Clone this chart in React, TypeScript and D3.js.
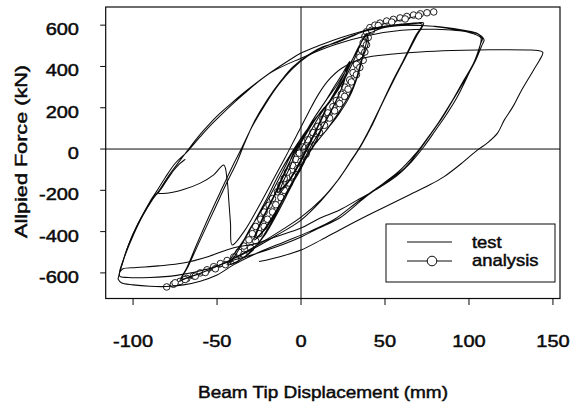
import React from 'react';
import * as d3 from 'd3';

type P = [number, number];

const xTicks = [-100, -50, 0, 50, 100, 150];
const yTicks = [-600, -400, -200, 0, 200, 400, 600];

const xTitle = 'Beam Tip Displacement (mm)';
const yTitle = 'Allpied Force (kN)';
const legendLabels = ['test', 'analysis'];

// test record: small elastic cycles
const testElastic: P[] = [
  [0, 0], [6, 90], [11, 160], [15, 205],
  [13, 165], [9, 95], [4, 15], [-2, -80], [-8, -160], [-14, -210],
  [-12, -160], [-8, -90], [-4, -10], [3, 75], [9, 150], [15, 210],
  [14, 175], [10, 105], [5, 20], [-1, -75], [-7, -155], [-13, -215],
  [-11, -165], [-7, -95], [-3, -15], [4, 85], [10, 160], [16, 220], [21, 290], [25, 350], [28, 410],
  [27, 370], [24, 290], [19, 200], [13, 110], [6, 15], [0, -80], [-6, -170], [-12, -260], [-18, -340], [-23, -400], [-27, -430],
  [-25, -380], [-21, -310], [-16, -230], [-11, -140], [-6, -50], [0, 40], [7, 140], [14, 225], [20, 305], [25, 370], [29, 425],
  [28, 395], [25, 310], [20, 220], [14, 125], [8, 25], [1, -70], [-5, -160], [-11, -250], [-17, -335], [-22, -395], [-28, -440],
  [-26, -390], [-22, -320], [-17, -240], [-12, -150], [-6, -50], [0, 40], [7, 140], [14, 225], [21, 305], [26, 370], [30, 425],
  [33, 470], [36, 520], [39, 560],
  [39, 520], [37, 460], [35, 400], [32, 320], [27, 237], [21, 160], [14, 80], [6, 0], [-1, -110], [-9, -220], [-16, -330],
  [-24, -440], [-30, -500], [-38, -545], [-44, -560],
  [-40, -510], [-34, -440], [-30, -380], [-26, -330], [-18, -220], [-11, -110], [-4, 0], [6, 120], [18, 237], [26, 340],
  [32, 440], [35, 500], [39, 560],
  [40, 510], [37, 450], [34, 360], [29, 255], [23, 175], [16, 100], [8, 20], [0, -90], [-7, -200], [-14, -310], [-21, -410],
  [-28, -480], [-35, -530], [-42, -558],
  [-38, -500], [-33, -430], [-27, -340], [-20, -235], [-13, -120], [-5, -10], [5, 110], [17, 232], [25, 335], [31, 440],
  [35, 505], [40, 560], [42, 565],
];

// test record: +-70 mm cycles
const testCycle70: P[] = [
  [42, 565], [48, 585], [56, 597], [64, 605], [72, 605], [68, 545], [61, 430], [54, 320], [47, 200], [41, 100], [35, 10],
  [29, -65], [23, -140], [12, -250], [0, -344], [-15, -420], [-30, -490], [-45, -550], [-58, -595], [-66, -618],
  [-71, -630], [-67, -565], [-60, -440], [-52, -300], [-44, -160], [-38, -60], [-34, 20], [-28, 130], [-20, 240],
  [-12, 330], [-5, 397], [5, 460], [13, 495], [21, 515], [30, 545], [39, 576], [50, 595], [60, 605], [70, 612], [73, 610],
  [69, 550], [62, 440], [55, 330], [48, 215], [42, 110], [36, 20], [30, -55], [22, -150], [12, -245], [0, -330],
  [-12, -395], [-25, -460], [-38, -520], [-50, -568], [-61, -605], [-69, -628], [-72, -638], [-68, -575], [-62, -460],
  [-55, -330], [-47, -190], [-40, -70], [-35, 10], [-29, 110], [-21, 220], [-13, 315], [-5, 390], [4, 450], [14, 495],
  [26, 535], [38, 570], [52, 592], [63, 600], [72, 598],
];

// test record: +-105 mm cycles
const testCycle105: P[] = [
  [72, 598], [85, 590], [97, 575], [105, 560], [108, 535], [107, 512], [104, 440], [99, 350], [93, 252], [86, 160],
  [80, 90], [73, 10], [66, -60], [57, -130], [45, -195], [33, -250], [23, -295], [10, -340], [0, -383], [-15, -425],
  [-28, -460], [-40, -478], [-55, -520], [-70, -552], [-85, -566], [-98, -574], [-106, -580], [-108, -595],
  [-105, -520], [-100, -420], [-94, -320], [-88, -240], [-84, -195], [-78, -120], [-72, -55], [-66, 10], [-58, 90],
  [-50, 160], [-41, 225], [-32, 286], [-20, 360], [-8, 425], [0, 465], [12, 505], [24, 540], [35, 567], [48, 592],
  [60, 600], [72, 598], [85, 588], [97, 572], [106, 555], [109, 528], [108, 508],
  [104, 430], [98, 340], [91, 245], [84, 150], [77, 70], [70, -10], [62, -90], [50, -165], [38, -235], [23, -334],
  [10, -385], [0, -426], [-15, -475], [-28, -510], [-40, -537], [-55, -580], [-74, -612], [-90, -622], [-103, -622],
  [-108, -615], [-106, -545], [-102, -450], [-96, -345], [-90, -255], [-86, -205], [-81, -140], [-75, -70], [-68, -15],
  [-60, 60], [-52, 130], [-35, 260], [-18, 370], [0, 440], [20, 505], [40, 550], [60, 575], [80, 580], [100, 565],
  [107, 540], [107, 515], [103, 420], [96, 320], [89, 220], [82, 130], [75, 50], [68, -25], [58, -110], [45, -190],
  [33, -260], [20, -340], [5, -400], [-10, -450], [-25, -500], [-40, -560], [-50, -610], [-60, -640], [-70, -658],
  [-80, -666], [-90, -665], [-100, -658], [-107, -648], [-109, -630],
];

// test record: final reload with local drop, push to 140 mm and unload
const testFinal: P[] = [
  [-109, -630], [-107, -570], [-103, -470], [-97, -360], [-91, -275], [-87, -225], [-85, -213], [-81, -160],
  [-76, -105], [-72, -70], [-69, -50], [-71, -62], [-75, -95], [-79, -140], [-83, -190], [-85, -213], [-80, -214],
  [-70, -196], [-60, -165], [-52, -125], [-46, -77], [-44, -150], [-43, -250], [-42, -360], [-41, -465], [-34, -400],
  [-26, -290], [-18, -170], [-10, -50], [-3, 60], [4, 170], [10, 260], [16, 330], [24, 390], [37, 440], [55, 460],
  [71, 470], [90, 477], [105, 480], [122, 481], [135, 480], [141, 477], [144, 468], [142, 430], [139, 390], [136, 349],
  [131, 280], [126, 203], [121, 140], [117, 77], [111, 30], [105, -5], [97, -60], [85, -135], [75, -180], [65, -220],
  [55, -260], [45, -300], [34, -345], [23, -392], [12, -440], [0, -489], [-12, -520], [-25, -545],
];

// analysis: loading branch
const analysisUp: P[] = [
  [-80, -668], [-76, -655], [-72, -641], [-68, -627], [-64, -614], [-60, -600], [-56, -585], [-52, -570], [-48, -555],
  [-44, -540], [-40, -523], [-37, -500], [-34, -470], [-31, -440], [-29, -410], [-27, -375], [-24, -340], [-22, -305],
  [-19, -272], [-17, -240], [-14, -207], [-12, -175], [-10, -143], [-8, -112], [-5, -80], [-3, -50], [-1, -20], [1, 10],
  [4, 45], [7, 80], [10, 110], [13, 145], [16, 175], [19, 205], [21, 235], [24, 265], [26, 300], [29, 335], [31, 370],
  [33, 410], [35, 445], [36, 480], [37, 515], [38, 545], [39, 568], [41, 588], [44, 600], [47, 610], [51, 620],
  [55, 628], [59, 635], [63, 642], [67, 649], [71, 655], [75, 660], [79, 664],
];

// analysis: unloading branch
const analysisDown: P[] = [
  [70, 645], [62, 630], [54, 615], [46, 598], [42, 575], [40, 540], [39, 505], [38, 470], [37, 430], [35, 395],
  [33, 360], [30, 325], [28, 290], [26, 255], [23, 220], [20, 185], [17, 150], [14, 115], [11, 80], [8, 45], [5, 10],
  [3, -25], [0, -60], [-2, -95], [-5, -130], [-7, -165], [-10, -200], [-12, -235], [-15, -270], [-17, -305], [-20, -340],
  [-22, -375], [-25, -410], [-27, -445], [-30, -480], [-34, -510], [-39, -535], [-45, -560], [-51, -580], [-57, -598],
  [-63, -616], [-69, -632], [-75, -648],
];

const testSegments = [testElastic, testCycle70, testCycle105, testFinal];
const analysisSegments = [analysisUp, analysisDown];

const FONT = "'Liberation Sans', Arial, Helvetica, sans-serif";

export default function App() {
  const left = 105.7, right = 560, top = 7, bottom = 298.5;
  const X = d3.scaleLinear().domain([-116.3, 154.2]).range([left, right]);
  const Y = d3.scaleLinear().domain([-724, 688]).range([bottom, top]);
  const line = d3
    .line<P>()
    .x((d) => X(d[0]))
    .y((d) => Y(d[1]))
    .curve(d3.curveCatmullRom.alpha(0.5));
  const ink = '#0a0a0a';
  const textStroke = { stroke: ink, strokeWidth: 0.45 };

  return (
    <svg
      width={580}
      height={410}
      style={{ position: 'absolute', left: 0, top: 0 }}
      fontFamily={FONT}
    >
      <rect x={0} y={0} width={580} height={410} fill="#fff" />
      {/* analysis */}
      {analysisSegments.map((seg, i) => (
        <g key={'a' + i}>
          <path d={line(seg) || ''} fill="none" stroke={ink} strokeWidth={0.9} />
          {seg.map((d, j) => (
            <circle key={j} cx={X(d[0])} cy={Y(d[1])} r={3.3} fill="#fff" stroke={ink} strokeWidth={0.9} />
          ))}
        </g>
      ))}
      {/* test */}
      {testSegments.map((seg, i) => (
        <path key={'t' + i} d={line(seg) || ''} fill="none" stroke={ink} strokeWidth={1.05} />
      ))}
      {/* zero lines */}
      <line x1={X(0)} x2={X(0)} y1={top} y2={bottom} stroke={ink} strokeWidth={1} />
      <line x1={left} x2={right} y1={Y(0)} y2={Y(0)} stroke={ink} strokeWidth={1} />
      {/* frame */}
      <rect x={left} y={top} width={right - left} height={bottom - top} fill="none" stroke={ink} strokeWidth={1.2} />
      {/* y ticks */}
      {yTicks.map((t) => (
        <g key={'y' + t}>
          <line x1={left - 5.5} x2={left} y1={Y(t)} y2={Y(t)} stroke={ink} strokeWidth={1} />
          <text
            transform={`translate(79,${Y(t) + 10}) scale(1.25,1)`}
            textAnchor="end"
            fontSize={16}
            fill={ink}
            {...textStroke}
          >
            {t}
          </text>
        </g>
      ))}
      {/* x ticks */}
      {xTicks.map((t) => (
        <g key={'x' + t}>
          <line x1={X(t)} x2={X(t)} y1={bottom} y2={bottom + 6.5} stroke={ink} strokeWidth={1} />
          <text
            transform={`translate(${X(t)},347) scale(1.25,1)`}
            textAnchor="middle"
            fontSize={16}
            fill={ink}
            {...textStroke}
          >
            {t}
          </text>
        </g>
      ))}
      {/* axis titles */}
      <text
        x={323}
        y={398}
        textAnchor="middle"
        fontSize={16}
        fill={ink}
        textLength={250}
        lengthAdjust="spacingAndGlyphs"
        {...textStroke}
      >
        {xTitle}
      </text>
      <text
        transform="translate(27,151.5) rotate(-90)"
        textAnchor="middle"
        fontSize={16}
        fill={ink}
        textLength={173}
        lengthAdjust="spacingAndGlyphs"
        {...textStroke}
      >
        {yTitle}
      </text>
      {/* legend */}
      <rect x={386} y={224} width={169} height={58} fill="#fff" stroke={ink} strokeWidth={1} />
      <line x1={407} x2={452} y1={242} y2={242} stroke={ink} strokeWidth={1} />
      <line x1={407} x2={452} y1={261} y2={261} stroke={ink} strokeWidth={1} />
      <circle cx={432} cy={261} r={4.8} fill="#fff" stroke={ink} strokeWidth={1} />
      <text transform="translate(472,248) scale(1.15,1)" fontSize={16} fill={ink} {...textStroke}>
        {legendLabels[0]}
      </text>
      <text transform="translate(472,266) scale(1.15,1)" fontSize={16} fill={ink} {...textStroke}>
        {legendLabels[1]}
      </text>
    </svg>
  );
}
